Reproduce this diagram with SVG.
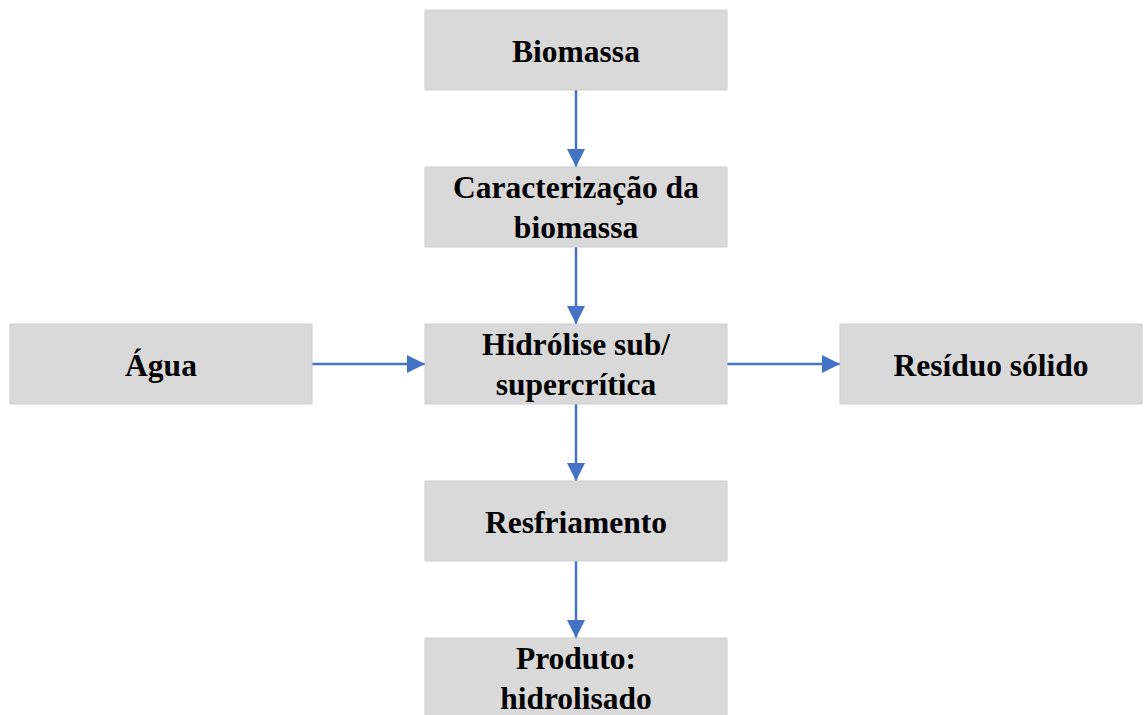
<svg xmlns="http://www.w3.org/2000/svg" width="1144" height="715" viewBox="0 0 1144 715">
<style>
.box{fill:#D9D9D9;stroke:#CFCFCF;stroke-width:1}
.t{font-family:"Liberation Serif","Times New Roman",serif;font-weight:bold;font-size:31.5px;fill:#000;text-anchor:middle}
.c{stroke:#4472C4;stroke-width:2.5;fill:none}
</style>
<defs>
<marker id="ah" markerUnits="userSpaceOnUse" markerWidth="18" markerHeight="18" refX="18" refY="9" orient="auto" viewBox="0 0 18 18">
<path d="M0,0 L18,9 L0,18 Z" fill="#4472C4"/>
</marker>
</defs>
<rect width="1144" height="715" fill="#fff"/>
<g id="connectors">
<line class="c" x1="576" y1="90" x2="576" y2="167" marker-end="url(#ah)"/>
<line class="c" x1="576" y1="247" x2="576" y2="324" marker-end="url(#ah)"/>
<line class="c" x1="576" y1="404" x2="576" y2="481" marker-end="url(#ah)"/>
<line class="c" x1="576" y1="561" x2="576" y2="638" marker-end="url(#ah)"/>
<line class="c" x1="312" y1="364" x2="425" y2="364" marker-end="url(#ah)"/>
<line class="c" x1="727" y1="364" x2="840" y2="364" marker-end="url(#ah)"/>
</g>
<g id="biomassa">
<rect class="box" x="425" y="10" width="302" height="80"/>
<text class="t" x="576" y="62">Biomassa</text>
</g>
<g id="caracterizacao">
<rect class="box" x="425" y="167" width="302" height="80"/>
<text class="t" x="576" y="198">Caracterização da</text>
<text class="t" x="576" y="238">biomassa</text>
</g>
<g id="hidrolise">
<rect class="box" x="425" y="324" width="302" height="80"/>
<text class="t" x="576" y="355">Hidrólise sub/</text>
<text class="t" x="576" y="395">supercrítica</text>
</g>
<g id="agua">
<rect class="box" x="10" y="324" width="302" height="80"/>
<text class="t" x="161" y="376">Água</text>
</g>
<g id="residuo">
<rect class="box" x="840" y="324" width="302" height="80"/>
<text class="t" x="991" y="376">Resíduo sólido</text>
</g>
<g id="resfriamento">
<rect class="box" x="425" y="481" width="302" height="80"/>
<text class="t" x="576" y="533">Resfriamento</text>
</g>
<g id="produto">
<rect class="box" x="425" y="638" width="302" height="82"/>
<text class="t" x="576" y="669">Produto:</text>
<text class="t" x="576" y="709">hidrolisado</text>
</g>
</svg>
